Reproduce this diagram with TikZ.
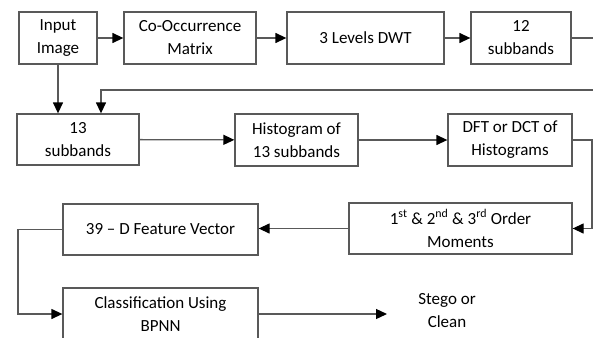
\documentclass[tikz,border=0pt]{standalone}
\usepackage{fontspec}
\setmainfont{Carlito}
\usetikzlibrary{arrows.meta}
\begin{document}
\begin{tikzpicture}[x=1pt,y=-1pt,
    box/.style={draw=black!65,line width=1.3pt,align=center,inner sep=0pt,
        font=\fontsize{17}{23}\selectfont},
    arr/.style={draw=black!65,line width=1.3pt,-{Triangle[length=11pt,width=10pt,color=black]}},
    lnk/.style={draw=black!65,line width=1.3pt}]
        \clip (0,0) rectangle (593,337);
        \fill[white] (0,0) rectangle (593,337);

        % top row
        \node[box,minimum width=78pt,minimum height=52pt] (inimg) at (58,38) {Input\\Image};
        \node[box,minimum width=132pt,minimum height=52pt] (cooc) at (190,38) {Co-Occurrence\\Matrix};
        \node[box,minimum width=157pt,minimum height=52pt] (dwt) at (365.5,38) {3 Levels DWT};
        \node[box,minimum width=100pt,minimum height=52pt] (sub12) at (521,38) {12\\subbands};

        % second row
        \node[box,minimum width=122pt,minimum height=51pt] (sub13) at (78,139.5) {13\\subbands};
        \node[box,minimum width=123pt,minimum height=52pt] (hist) at (296.5,140) {Histogram of\\13 subbands};
        \node[box,minimum width=124pt,minimum height=52pt] (dft) at (510,140) {DFT or DCT of\\Histograms};

        % third row
        \node[box,minimum width=223pt,minimum height=51pt] (mom) at (460.5,228.5)
            {1\textsuperscript{st} \& 2\textsuperscript{nd} \& 3\textsuperscript{rd} Order\\Moments};
        \node[box,minimum width=195pt,minimum height=51pt] (feat) at (160.5,229.5) {39 – D Feature Vector};

        % last row
        \node[box,minimum width=195pt,minimum height=52pt] (cls) at (160.5,314) {Classification Using\\BPNN};
        \node[align=center,font=\fontsize{17}{23}\selectfont] (res) at (447,311) {Stego or\\Clean};

        \coordinate (a1) at (596,38);
        \coordinate (a2) at (596,90);
        \coordinate (a3) at (101,90);
        \coordinate (b1) at (592,140);
        \coordinate (b2) at (592,228.5);
        \coordinate (c1) at (18,229.5);
        \coordinate (c2) at (18,314);
        \coordinate (d1) at (387,314);

        \draw[arr] (inimg) -- (cooc);
        \draw[arr] (cooc) -- (dwt);
        \draw[arr] (dwt) -- (sub12);
        \draw[arr] (inimg.south) -- (inimg.south |- sub13.north);
        \draw[arr] (sub12.east) -- (a1) -- (a2) -- (a3) -- (a3 |- sub13.north);
        \draw[arr] (sub13) -- (hist);
        \draw[arr] (hist) -- (dft);
        \draw[arr] (dft.east) -- (b1) -- (b2) -- (mom.east);
        \draw[arr] (mom.west) -- (mom.west -| feat.east);
        \draw[arr] (feat.west) -- (c1) -- (c2) -- (cls.west);
        \draw[arr] (cls.east) -- (d1);
\end{tikzpicture}
\end{document}
